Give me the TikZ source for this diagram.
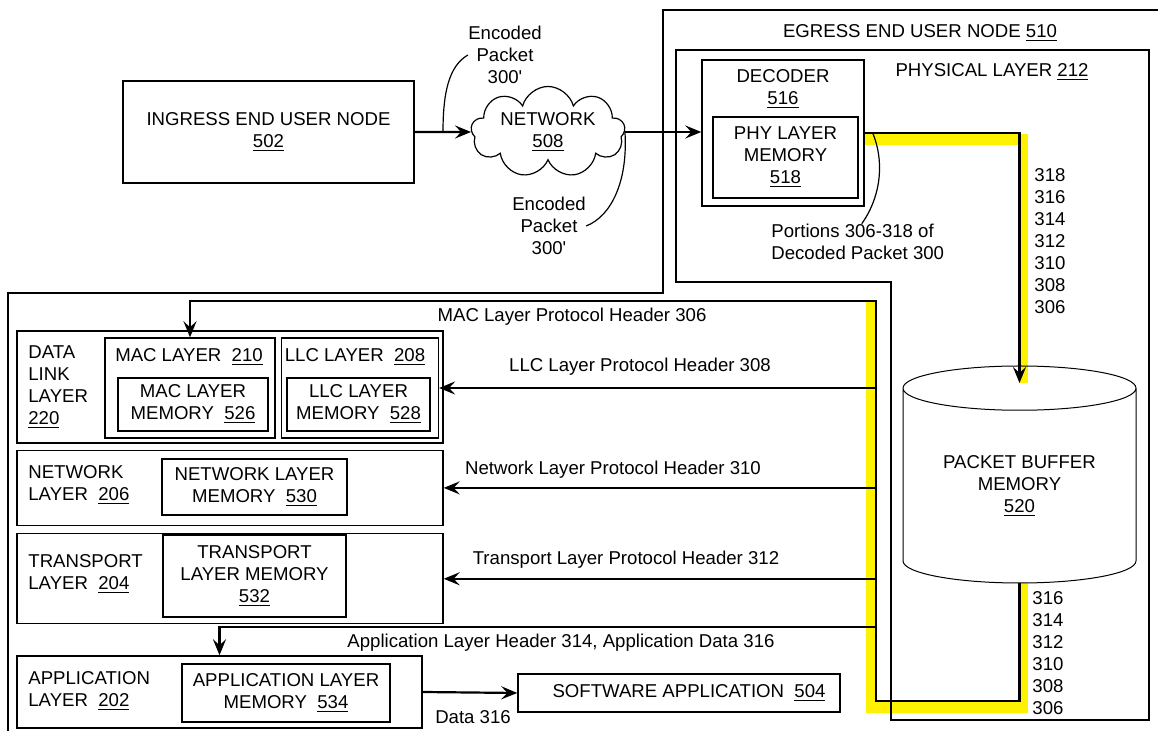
\documentclass[tikz,border=0pt]{standalone}
\usepackage{fontspec}
\setmainfont{Liberation Sans}
\usetikzlibrary{positioning,shapes.geometric,shapes.symbols,arrows.meta}

\tikzset{
  box/.style={draw, line width=0.7pt, inner sep=0pt, align=center},
  txt/.style={inner sep=0pt, align=center},
  arr/.style={line width=1.1pt, -{Stealth[length=8pt,width=6.5pt,inset=3pt]}},
  link/.style={line width=1.1pt},
  outline/.style={line width=0.7pt},
  callout/.style={line width=0.6pt},
  hilite/.style={fill=yellow},
}

\begin{document}
\begin{tikzpicture}[x=0.5pt, y=-0.5pt, font=\fontsize{9.3}{11}\selectfont]
\useasboundingbox (0,0) rectangle (1158,731);

% yellow highlight of the decoded packet path
\fill[hilite] (863,134) rectangle (1028,145);
\fill[hilite] (1020,134) rectangle (1028,383);
\fill[hilite] (866,301) rectangle (875,713);
\fill[hilite] (866,702) rectangle (1028,713);
\fill[hilite] (1020,583) rectangle (1028,713);

% egress end user node and physical layer
\draw[outline] (663,10) -- (1165,10) -- (1165,740) -- (8,740) -- (8,293) -- (663,293) -- cycle;
\draw[outline] (676,50) -- (1149,50) -- (1149,720) -- (891,720) -- (891,282) -- (676,282) -- cycle;
\node[txt] (egt) at (920,33) {EGRESS END USER NODE \underline{510}};
\node[txt] (pht) at (992,72) {PHYSICAL LAYER \underline{212}};

% ingress side
\node[box, minimum width=145.5pt, minimum height=51pt] (ing) at (268.5,132) {INGRESS END USER NODE\\\underline{502}};
\node[cloud, draw, cloud puffs=9, cloud ignores aspect, line width=0.6pt, minimum width=77pt, minimum height=45.5pt, inner sep=0pt, align=center] (net) at (548,132) {NETWORK\\\underline{508}};
\node[txt] (enc1) at (505,55) {Encoded\\Packet\\300\textquotesingle};
\node[txt] (enc2) at (549,226) {Encoded\\Packet\\300\textquotesingle};

% decoder
\node[box, minimum width=81pt, minimum height=73pt] (dec) at (783,133) {};
\node[txt] (dect) at (783,89.5) {DECODER\\\underline{516}};
\node[box, minimum width=72.5pt, minimum height=40.5pt] (phy) at (785.5,157.5) {PHY LAYER\\MEMORY\\\underline{518}};
\node[txt, align=left, anchor=west] (por) at (771,242) {Portions 306-318 of\\Decoded Packet 300};

% packet buffer
\node[cylinder, shape border rotate=90, draw, line width=0.5pt, aspect=0.29, minimum width=116.5pt, minimum height=108.5pt, inner sep=0pt, outer sep=0pt, align=center, anchor=shape center] (pbm) at (1019.5,474.5) {PACKET BUFFER\\MEMORY\\\underline{520}};
\coordinate (pin) at ([yshift=-8.5pt]pbm.top);
\node[txt] (num1) at (1050,241.5) {318\\316\\314\\312\\310\\308\\306};
\node[txt] (num2) at (1048,653.5) {316\\314\\312\\310\\308\\306};

% data link layer
\node[box, minimum width=213pt, minimum height=56pt] (dll) at (230,387) {};
\node[txt, align=left, anchor=west] (dllt) at (28,387.5) {DATA\\LINK\\LAYER\\\underline{220}};
\node[box, minimum width=85pt, minimum height=50pt] (mac) at (190,388) {};
\node[txt] (mact) at (189,357) {MAC LAYER\ \ \underline{210}};
\node[box, minimum width=75pt, minimum height=26.5pt] (macm) at (193,404.5) {MAC LAYER\\MEMORY\ \ \underline{526}};
\node[box, minimum width=78.5pt, minimum height=50pt, right=2.5pt of mac] (llc) {};
\node[txt] (llct) at (355,357) {LLC LAYER\ \ \underline{208}};
\node[box, minimum width=71.5pt, minimum height=26.5pt] (llcm) at (358.5,404.5) {LLC LAYER\\MEMORY\ \ \underline{528}};

% network, transport and application layers
\node[box, minimum width=213pt, minimum height=37.5pt, below=3pt of dll] (netl) {};
\node[txt, align=left, anchor=west] (netlt) at (28,485) {NETWORK\\LAYER\ \ \underline{206}};
\node[box, minimum width=92.5pt, minimum height=28pt] (netm) at (254.5,487) {NETWORK LAYER\\MEMORY\ \ \underline{530}};
\node[box, minimum width=213pt, minimum height=45pt, below=3.5pt of netl] (trl) {};
\node[txt, align=left, anchor=west] (trlt) at (28,574) {TRANSPORT\\LAYER\ \ \underline{204}};
\node[box, minimum width=91.5pt, minimum height=41pt] (trm) at (254.5,576) {TRANSPORT\\LAYER MEMORY\\\underline{532}};
\node[box, minimum width=202.5pt, minimum height=36pt] (app) at (219.5,692) {};
\node[txt, align=left, anchor=west] (appt) at (28,691.5) {APPLICATION\\LAYER\ \ \underline{202}};
\node[box, minimum width=104pt, minimum height=29pt] (appm) at (286,693) {APPLICATION LAYER\\MEMORY\ \ \underline{534}};
\node[box, minimum width=161pt, minimum height=19pt] (sw) at (679,693) {\hspace{10pt}SOFTWARE APPLICATION\ \ \underline{504}};

% connectors
\draw[arr] (ing) -- (net);
\draw[arr] (net.east) -- (net.east -| dec.west);
\draw[arr] (dec.east) -| (pin);
\coordinate (tb) at (876,701);
\coordinate (tt) at (876,301);
\coordinate (ta) at (876,627);
\draw[arr] (pbm.bottom) |- (tb) -- (tt) -| (mac.north);
\draw[arr] (tt |- llc.east) -- (llc.east);
\draw[arr] (tt |- netl.east) -- (netl.east);
\draw[arr] (tt |- trl.east) -- (trl.east);
\draw[arr] (ta) -| (app.north);
\draw[arr] (app.east) -- (sw.west);

% header labels
\node[txt] (hmac) at (572,317) {MAC Layer Protocol Header 306};
\node[txt] (hllc) at (640,367) {LLC Layer Protocol Header 308};
\node[txt] (hnet) at (613,470) {Network Layer Protocol Header 310};
\node[txt] (htr) at (626,560) {Transport Layer Protocol Header 312};
\node[txt] (happ) at (561,643) {Application Layer Header 314, Application Data 316};
\node[txt] (hdata) at (473,717) {Data 316};

% callouts
\coordinate (c1) at (443,132);
\draw[callout] (c1) .. controls (443,92) and (449,66) .. (enc1.west);
\draw[callout] (net.east) .. controls (628,180) and (612,216) .. (enc2.east);
\draw[callout] ([xshift=4pt]dec.east) .. controls (884,160) and (882,195) .. ([xshift=2pt]por.north);
\end{tikzpicture}
\end{document}
